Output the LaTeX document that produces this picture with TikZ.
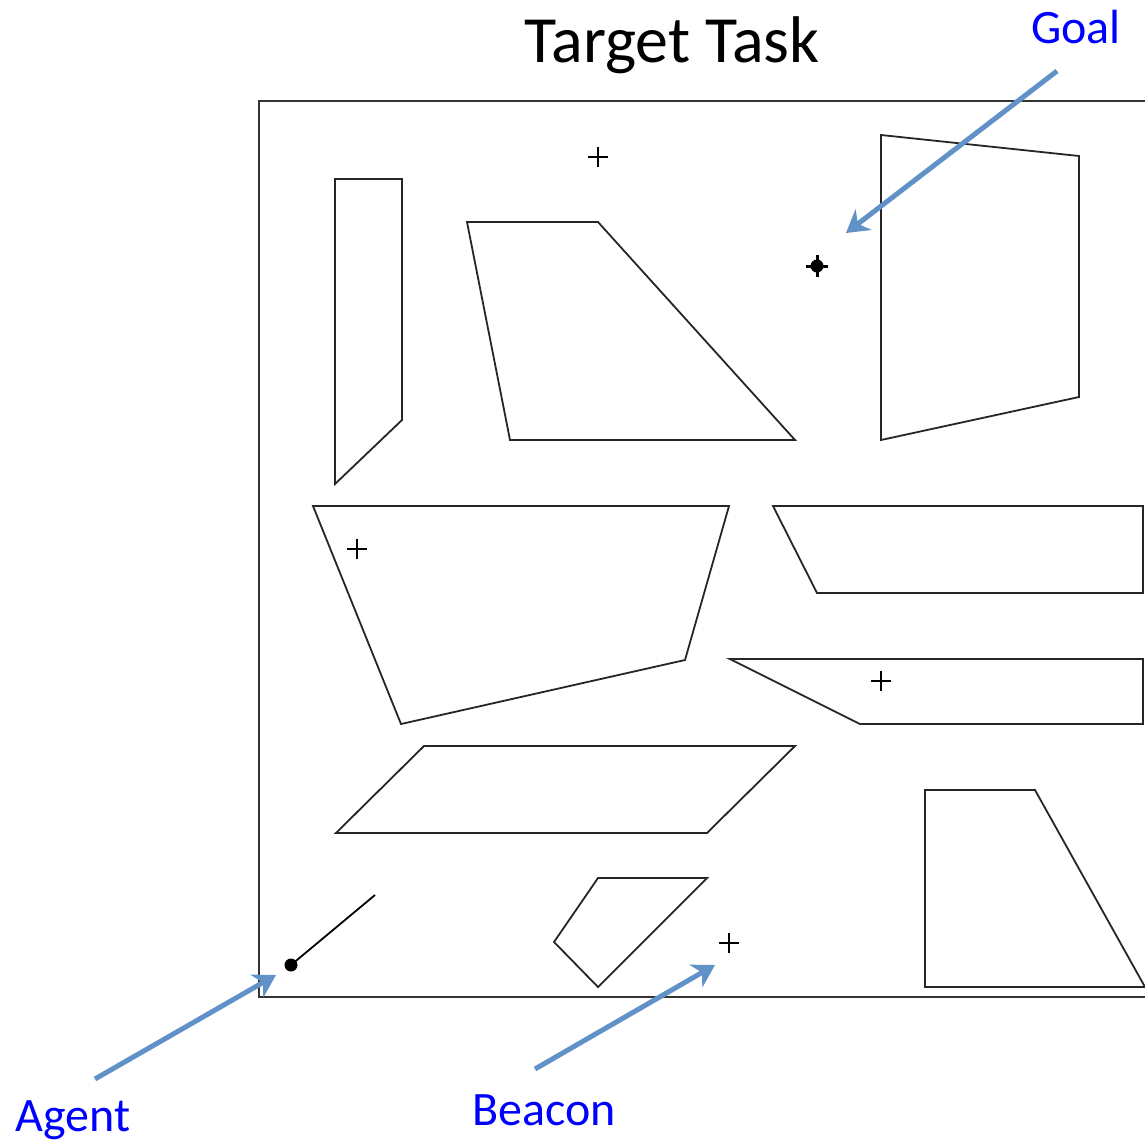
\documentclass[tikz,border=0pt]{standalone}
\usepackage{fontspec}
\setmainfont{Carlito}
\usetikzlibrary{arrows.meta}
\definecolor{arrowblue}{RGB}{96,146,200}
\definecolor{labelblue}{RGB}{0,0,255}
\tikzset{
  obstacle/.style={draw=black!85, line width=1.8pt, line join=miter},
  marker/.style={draw=black, line width=1.8pt},
  pointer/.style={draw=arrowblue, line width=5pt, -{Stealth[length=22pt,width=26pt,inset=7pt]}},
  label/.style={text=labelblue, font=\fontsize{48}{54}\selectfont, anchor=base, inner sep=0pt}
}
\begin{document}
\begin{tikzpicture}[x=1pt,y=-1pt]
\useasboundingbox (0,0) rectangle (1145,1141);
\clip (0,0) rectangle (1145,1141);
\fill[white] (0,0) rectangle (1145,1141);

% title
\node[anchor=base, inner sep=0pt, font=\fontsize{66}{74}\selectfont] (title) at (672,62) {Target Task};

% arena boundary
\draw[line width=2.2pt, draw=black!80] (1160,101) -- (259,101) -- (259,997) -- (1160,997);

% obstacles
\draw[obstacle] (335,179) -- (402,179) -- (402,420) -- (335,484) -- cycle;
\draw[obstacle] (467,222) -- (598,222) -- (795,440) -- (510,440) -- cycle;
\draw[obstacle] (881,135) -- (1079,156) -- (1079,397) -- (881,440) -- cycle;
\draw[obstacle] (313,506) -- (729,506) -- (685,660) -- (401,724) -- cycle;
\draw[obstacle] (773,506) -- (1143,506) -- (1143,593) -- (817,593) -- cycle;
\draw[obstacle] (730,659) -- (1143,659) -- (1143,724) -- (860,724) -- cycle;
\draw[obstacle] (424,746) -- (795,746) -- (707,833) -- (336,833) -- cycle;
\draw[obstacle] (598,878) -- (707,878) -- (598,987) -- (554,942) -- cycle;
\draw[obstacle] (925,790) -- (1035,790) -- (1145,987) -- (925,987) -- cycle;

% beacons
\foreach \bx/\by in {598/157, 357/549, 881/681, 729/943}{
  \draw[marker] (\bx-10,\by) -- (\bx+10,\by) (\bx,\by-10) -- (\bx,\by+10);
}
\coordinate (beacon) at (729,943);

% goal
\coordinate (goal) at (817,266);
\fill (goal) circle (6.5);
\draw[line width=3pt] (806,266) -- (828,266) (817,255) -- (817,277);

% agent with heading
\coordinate (agent) at (291,965);
\coordinate (heading) at (375,895);
\draw[line width=1.8pt] (agent) -- (heading);
\fill (agent) circle (6.5);

% labels and pointers
\node[label] (goallbl) at (1076,43) {Goal};
\node[label] (agentlbl) at (73,1131) {Agent};
\node[label] (beaconlbl) at (544,1125) {Beacon};

\coordinate (goaltail) at (1057,71);
\coordinate (goalhead) at (846,233);
\coordinate (agenttail) at (95,1079);
\coordinate (agenthead) at (276,975);
\coordinate (beacontail) at (535,1069);
\coordinate (beaconhead) at (715,965);
\draw[pointer] (goaltail) -- (goalhead);
\draw[pointer] (agenttail) -- (agenthead);
\draw[pointer] (beacontail) -- (beaconhead);
\end{tikzpicture}
\end{document}
